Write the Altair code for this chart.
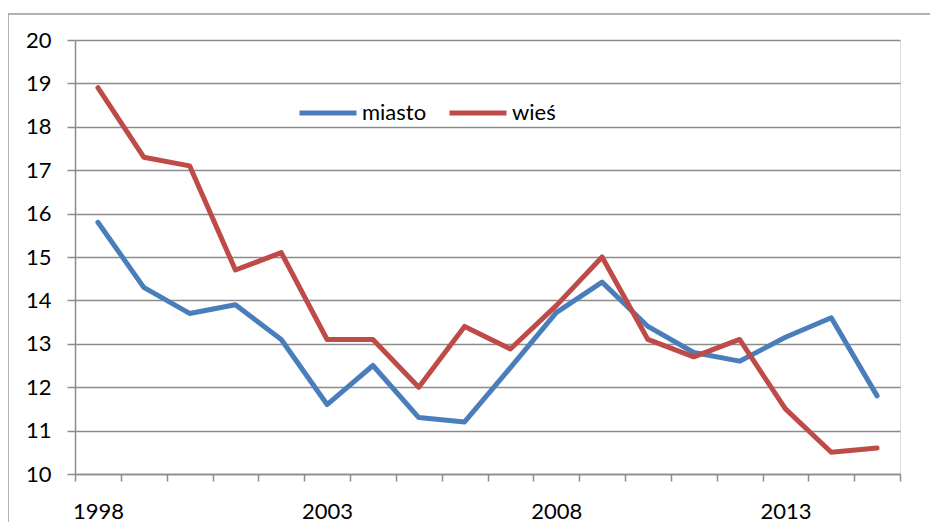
import altair as alt
import pandas as pd

years = list(range(1998, 2016))
miasto = [15.8, 14.3, 13.7, 13.9, 13.1, 11.6, 12.5, 11.3, 11.2, 12.45,
          13.72, 14.42, 13.4, 12.8, 12.6, 13.15, 13.6, 11.8]
wies = [18.9, 17.3, 17.1, 14.7, 15.1, 13.1, 13.1, 12.0, 13.4, 12.88,
        13.88, 15.0, 13.1, 12.7, 13.1, 11.5, 10.5, 10.6]
series_names = ["miasto", "wieś"]
series_colors = ["#4A7EBB", "#BE4B48"]
y_ticks = list(range(10, 21))
x_boundaries = [y - 0.5 for y in years] + [years[-1] + 0.5]

rows = []
for name, vals in zip(series_names, [miasto, wies]):
    for yr, v in zip(years, vals):
        rows.append({"rok": yr, "wartosc": v, "seria": name})
df = pd.DataFrame(rows)

FONT = "Lato"
GRID = "#8c8c8c"

W, H = 825, 434
PAD = {"left": 67, "top": 32, "right": 30, "bottom": 48}

lines = alt.Chart(df).mark_line(strokeWidth=5, strokeCap="round", strokeJoin="round").encode(
    x=alt.X("rok:Q",
            scale=alt.Scale(domain=[x_boundaries[0], x_boundaries[-1]], nice=False, zero=False),
            axis=alt.Axis(values=x_boundaries, title=None, grid=False,
                          labelExpr="(datum.value + 0.5) % 5 == 3 ? format(datum.value + 0.5, 'd') : ''",
                          labelOffset=W / 18 / 2, labelFlush=False, labelOverlap=False,
                          tickSize=7, labelPadding=20, labelFontSize=22, labelFont=FONT,
                          labelColor="#000000", tickColor=GRID, domainColor=GRID,
                          tickWidth=1.5, domainWidth=1.5)),
    y=alt.Y("wartosc:Q",
            scale=alt.Scale(domain=[10, 20], nice=False, zero=False),
            axis=alt.Axis(values=y_ticks, title=None, grid=True, gridColor=GRID, gridWidth=1.5,
                          gridOpacity=1, tickSize=8, labelPadding=16, labelFontSize=22,
                          labelFont=FONT, labelColor="#000000", tickColor=GRID,
                          domainColor=GRID, tickWidth=1.5, domainWidth=1.5)),
    color=alt.Color("seria:N",
                    scale=alt.Scale(domain=series_names, range=series_colors),
                    legend=alt.Legend(title=None, orient="none", legendX=222, legendY=42,
                                      direction="horizontal", symbolType="stroke",
                                      symbolStrokeWidth=5, symbolSize=3249,
                                      labelFontSize=22, labelFont=FONT, labelColor="#000000",
                                      labelOffset=3, columnPadding=12)),
    order=alt.Order("rok:Q"),
)

frame_df = pd.DataFrame({"k": [0]})
top_border = alt.Chart(frame_df).mark_rule(color="#9a9a9a", strokeWidth=1.5).encode(
    x=alt.value(-67), x2=alt.value(W + 40), y=alt.value(-26))
left_border = alt.Chart(frame_df).mark_rule(color="#9a9a9a", strokeWidth=1.5).encode(
    x=alt.value(-67), y=alt.value(-26), y2=alt.value(H + 80))

chart = alt.layer(top_border, left_border, lines).properties(
    width=W, height=H,
    autosize=alt.AutoSizeParams(type="none"),
    padding=PAD,
).configure_view(stroke=None).configure(font=FONT, background="#ffffff")

chart.save("out.html", embed_options={"renderer": "svg", "actions": False})
